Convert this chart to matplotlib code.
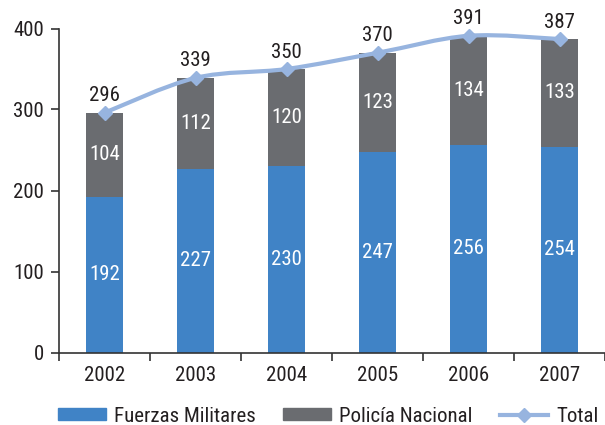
import matplotlib
matplotlib.use("Agg")
import matplotlib.pyplot as plt
from matplotlib.path import Path
from matplotlib.patches import PathPatch, Patch
from matplotlib.lines import Line2D
from matplotlib import font_manager
import numpy as np

years = ["2002", "2003", "2004", "2005", "2006", "2007"]
fuerzas = [192, 227, 230, 247, 256, 254]
policia = [104, 112, 120, 123, 134, 133]
total = [296, 339, 350, 370, 391, 387]

names = {f.name for f in font_manager.fontManager.ttflist}
prefs = ["Arial Narrow", "Liberation Sans Narrow", "Roboto Condensed", "Pragati Narrow",
         "Archivo Narrow", "Liberation Sans"]
fam = next((p for p in prefs if p in names), "DejaVu Sans")
plt.rcParams["font.family"] = [fam, "DejaVu Sans"]

blue = "#4083C6"
gray = "#6A6C70"
lineblue = "#97B4DF"
txt = "#231F20"

W, H = 605, 425
fig = plt.figure(figsize=(W / 100, H / 100), dpi=100)
left, right, top, bottom = 59, 605, 28.5, 352.5
ax = fig.add_axes([left / W, 1 - bottom / H, (right - left) / W, (bottom - top) / H])

x = np.arange(len(years))
bw = 0.41
ax.bar(x, fuerzas, width=bw, color=blue, zorder=2)
ax.bar(x, policia, width=bw, bottom=fuerzas, color=gray, zorder=2)

fs = 15
for xi, f, p, t in zip(x, fuerzas, policia, total):
    ax.text(xi, f / 2, str(f), ha="center", va="center", color="white", fontsize=fs, zorder=4)
    ax.text(xi, f + p / 2, str(p), ha="center", va="center", color="white", fontsize=fs, zorder=4)
    ax.annotate(str(t), (xi, t), xytext=(0, 17), textcoords="offset pixels",
                ha="center", va="center", color=txt, fontsize=fs, zorder=5)

# smooth (Catmull-Rom style) curve through totals
pts = np.column_stack([x, total]).astype(float)
verts = [tuple(pts[0])]
codes = [Path.MOVETO]
n = len(pts)
tension = 1 / 6
for i in range(n - 1):
    p0 = pts[i - 1] if i > 0 else pts[i]
    p1 = pts[i]
    p2 = pts[i + 1]
    p3 = pts[i + 2] if i + 2 < n else pts[i + 1]
    c1 = p1 + (p2 - p0) * tension
    c2 = p2 - (p3 - p1) * tension
    verts += [tuple(c1), tuple(c2), tuple(p2)]
    codes += [Path.CURVE4, Path.CURVE4, Path.CURVE4]
ax.add_patch(PathPatch(Path(verts, codes), facecolor="none", edgecolor=lineblue, lw=3, zorder=3,
                       capstyle="round"))
ax.plot(x, total, linestyle="none", marker="D", markersize=7, color=lineblue, zorder=3)

ax.set_xlim(-0.5, -0.5 + (right - left) / 93.0)
ax.set_ylim(0, 400)
ax.set_yticks([0, 100, 200, 300, 400])
ax.set_xticks(x)
ax.set_xticklabels(years)
ax.set_xticks(np.arange(-0.5, 6, 1.0), minor=True)
ax.tick_params(axis="x", which="major", length=0, pad=10, labelsize=fs, labelcolor=txt)
ax.tick_params(axis="x", which="minor", length=6, width=1.2, color="#333333", direction="out")
ax.tick_params(axis="y", length=6, width=1.2, color="#333333", labelsize=fs, labelcolor=txt, pad=5)
for s in ["top", "right"]:
    ax.spines[s].set_visible(False)
for s in ["left", "bottom"]:
    ax.spines[s].set_color("#333333")
    ax.spines[s].set_linewidth(1.2)

handles = [Patch(color=blue), Patch(color=gray),
           Line2D([], [], color=lineblue, lw=3, marker="D", markersize=7)]
labels = ["Fuerzas Militares", "Policía Nacional", "Total"]
leg = fig.legend(handles, labels, loc="center", bbox_to_anchor=(328 / W, 1 - 416 / H), ncol=3,
                 frameon=False, fontsize=fs, handlelength=2.3, handleheight=0.5,
                 columnspacing=1.3, handletextpad=0.4)
for t in leg.get_texts():
    t.set_color(txt)

fig.savefig("out.png", dpi=100)
